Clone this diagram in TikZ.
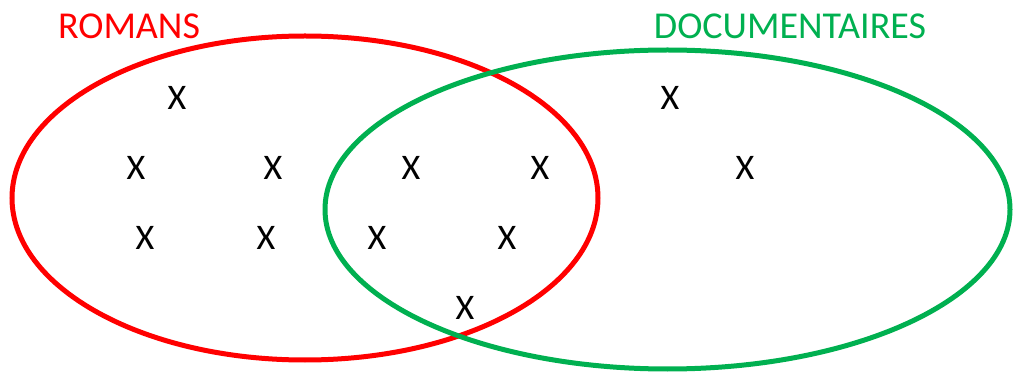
\documentclass[tikz,border=0pt]{standalone}
\usepackage{fontspec}
\setmainfont{Carlito}
\definecolor{vred}{HTML}{FF0000}
\definecolor{vgreen}{HTML}{00B050}
\begin{document}
\begin{tikzpicture}[x=1pt,y=-1pt,
  setline/.style={line width=5pt},
  xmark/.style={inner sep=0pt,font=\fontsize{36}{40}\selectfont,text=black},
  setlabel/.style={inner sep=0pt,anchor=base,font=\fontsize{38}{42}\selectfont}]
\useasboundingbox (0,0) rectangle (1013,374);
\draw[setline,vred] (305,198) ellipse [x radius=293,y radius=162];
\draw[setline,vgreen] (667.5,209.5) ellipse [x radius=342.5,y radius=159.5];
\node[setlabel,text=vred] (romans) at (129,39) {ROMANS};
\node[setlabel,text=vgreen] (docs) at (790,39) {DOCUMENTAIRES};
\node[xmark] (a1) at (177,98) {X};
\node[xmark] (a2) at (136,168) {X};
\node[xmark] (a3) at (273,168) {X};
\node[xmark] (a4) at (145,238) {X};
\node[xmark] (a5) at (266,238) {X};
\node[xmark] (b1) at (411,168) {X};
\node[xmark] (b2) at (540,168) {X};
\node[xmark] (b3) at (377,238) {X};
\node[xmark] (b4) at (507,238) {X};
\node[xmark] (b5) at (465,308) {X};
\node[xmark] (c1) at (670,98) {X};
\node[xmark] (c2) at (745,168) {X};
\end{tikzpicture}
\end{document}
